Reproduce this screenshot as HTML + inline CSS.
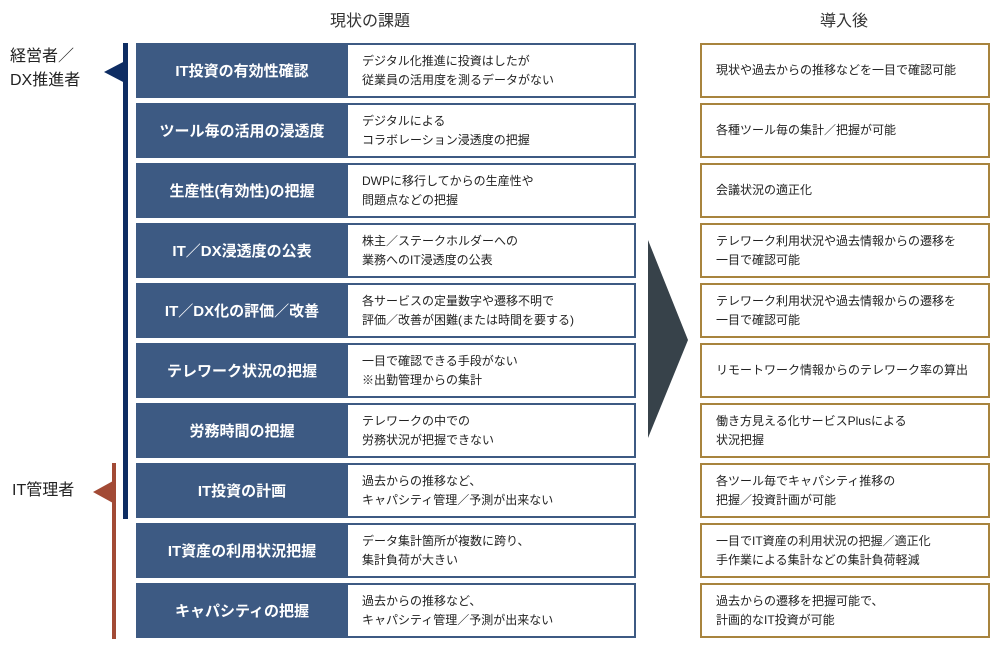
<!DOCTYPE html>
<html><head><meta charset="utf-8"><style>
body{margin:0;width:1000px;height:649px;background:#fff;position:relative;font-family:"Liberation Sans","Noto Sans CJK JP",sans-serif;overflow:hidden}
.a{position:absolute}
.t{font-size:16px;color:#333;top:7px;}
.l{left:136px;width:212px;height:55px;background:#3d5a83;color:#fff;font-size:15px;font-weight:bold;display:flex;align-items:center;justify-content:center}
.m{left:348px;border:2px solid #3d5a83;border-left:none;font-size:12px;color:#222;display:flex;align-items:center;padding-left:14px;box-sizing:border-box;width:288px;height:55px;line-height:19px}
.r{left:700px;width:290px;height:55px;border:2px solid #a8843e;box-sizing:border-box;font-size:12px;color:#222;display:flex;align-items:center;padding-left:14px;line-height:19px}
.g{font-size:16px;color:#222;line-height:24px}
</style></head><body>
<div class="a t" style="left:330px">現状の課題</div>
<div class="a t" style="left:820px">導入後</div>
<div class="a g" style="left:10px;top:45px">経営者／<br>DX推進者</div>
<div class="a g" style="left:12px;top:479px">IT管理者</div>
<div class="a" style="left:123px;top:43px;width:5px;height:476px;background:#0e2d63"></div>
<svg class="a" style="left:0;top:0" width="1000" height="649">
<polygon points="104,72 125,61 125,83" fill="#0e2d63"/>
<polygon points="93,492 113,481 113,503" fill="#a24a35"/>
<polygon points="648,240 688,340 648,438" fill="#37424a"/>
</svg>
<div class="a" style="left:112px;top:463px;width:4px;height:176px;background:#a24a35"></div>

<div class="a l" style="top:43px">IT投資の有効性確認</div>
<div class="a m" style="top:43px">デジタル化推進に投資はしたが<br>従業員の活用度を測るデータがない</div>
<div class="a r" style="top:43px">現状や過去からの推移などを一目で確認可能</div>

<div class="a l" style="top:103px">ツール毎の活用の浸透度</div>
<div class="a m" style="top:103px">デジタルによる<br>コラボレーション浸透度の把握</div>
<div class="a r" style="top:103px">各種ツール毎の集計／把握が可能</div>

<div class="a l" style="top:163px">生産性(有効性)の把握</div>
<div class="a m" style="top:163px">DWPに移行してからの生産性や<br>問題点などの把握</div>
<div class="a r" style="top:163px">会議状況の適正化</div>

<div class="a l" style="top:223px">IT／DX浸透度の公表</div>
<div class="a m" style="top:223px">株主／ステークホルダーへの<br>業務へのIT浸透度の公表</div>
<div class="a r" style="top:223px">テレワーク利用状況や過去情報からの遷移を<br>一目で確認可能</div>

<div class="a l" style="top:283px">IT／DX化の評価／改善</div>
<div class="a m" style="top:283px">各サービスの定量数字や遷移不明で<br>評価／改善が困難(または時間を要する)</div>
<div class="a r" style="top:283px">テレワーク利用状況や過去情報からの遷移を<br>一目で確認可能</div>

<div class="a l" style="top:343px">テレワーク状況の把握</div>
<div class="a m" style="top:343px">一目で確認できる手段がない<br>※出勤管理からの集計</div>
<div class="a r" style="top:343px">リモートワーク情報からのテレワーク率の算出</div>

<div class="a l" style="top:403px">労務時間の把握</div>
<div class="a m" style="top:403px">テレワークの中での<br>労務状況が把握できない</div>
<div class="a r" style="top:403px">働き方見える化サービスPlusによる<br>状況把握</div>

<div class="a l" style="top:463px">IT投資の計画</div>
<div class="a m" style="top:463px">過去からの推移など、<br>キャパシティ管理／予測が出来ない</div>
<div class="a r" style="top:463px">各ツール毎でキャパシティ推移の<br>把握／投資計画が可能</div>

<div class="a l" style="top:523px">IT資産の利用状況把握</div>
<div class="a m" style="top:523px">データ集計箇所が複数に跨り、<br>集計負荷が大きい</div>
<div class="a r" style="top:523px">一目でIT資産の利用状況の把握／適正化<br>手作業による集計などの集計負荷軽減</div>

<div class="a l" style="top:583px">キャパシティの把握</div>
<div class="a m" style="top:583px">過去からの推移など、<br>キャパシティ管理／予測が出来ない</div>
<div class="a r" style="top:583px">過去からの遷移を把握可能で、<br>計画的なIT投資が可能</div>
</body></html>
